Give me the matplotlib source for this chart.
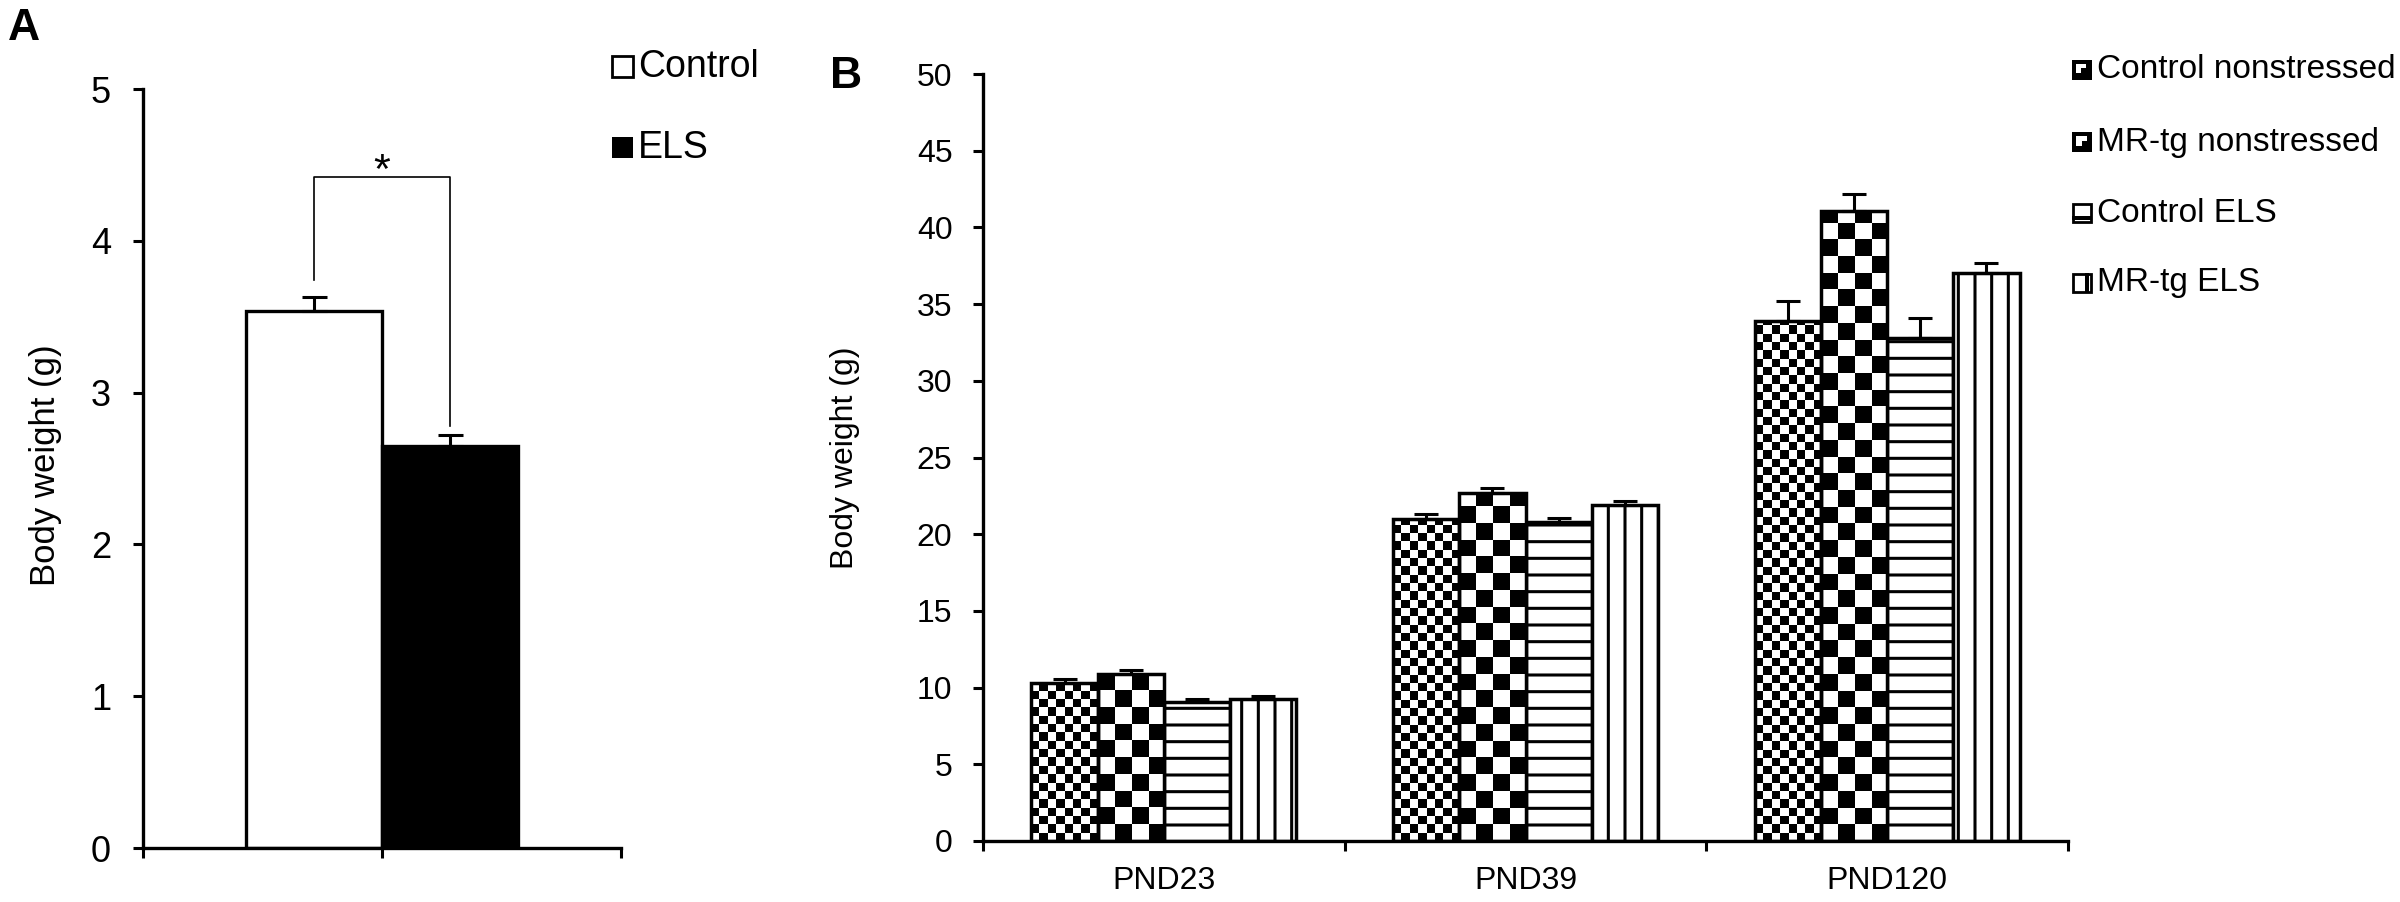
import numpy as np
import matplotlib
matplotlib.use('Agg')
import matplotlib.pyplot as plt
from matplotlib.patches import Rectangle

plt.rcParams['font.family'] = ['Liberation Sans', 'DejaVu Sans']
plt.rcParams['hatch.linewidth'] = 2.2
plt.rcParams['hatch.color'] = 'black'

# Panel A data
groups_a = ['Control', 'ELS']
weight_a = [3.54, 2.65]
sem_a = [0.09, 0.07]

# Panel B data
days = ['PND23', 'PND39', 'PND120']
series_b = ['Control nonstressed', 'MR-tg nonstressed', 'Control ELS', 'MR-tg ELS']
ctrl_ns = [10.3, 21.0, 33.9]
ctrl_ns_err = [0.25, 0.3, 1.3]
mrtg_ns = [10.9, 22.7, 41.1]
mrtg_ns_err = [0.25, 0.3, 1.1]
ctrl_els = [9.05, 20.8, 32.8]
ctrl_els_err = [0.2, 0.25, 1.3]
mrtg_els = [9.25, 21.9, 37.0]
mrtg_els_err = [0.2, 0.25, 0.7]

W, H = 2400, 902
fig = plt.figure(figsize=(W / 100, H / 100), dpi=100)


def box(x0, y0, x1, y1):
    # pixel box (top-left origin) -> figure fraction rect
    return [x0 / W, 1 - y1 / H, (x1 - x0) / W, (y1 - y0) / H]


def prect(x, y, w, h, fc, ec='none', lw=0):
    fig.add_artist(Rectangle((x / W, 1 - (y + h) / H), w / W, h / H,
                             transform=fig.transFigure, facecolor=fc,
                             edgecolor=ec, linewidth=lw))


def style(ax, size):
    for s in ['top', 'right']:
        ax.spines[s].set_visible(False)
    for s in ['left', 'bottom']:
        ax.spines[s].set_linewidth(2.4)
    ax.tick_params(which='major', direction='out', length=7, width=2.2,
                   labelsize=size, pad=15)


ax_a = fig.add_axes(box(143, 89, 621, 848))
ax_b = fig.add_axes(box(983, 74, 2068, 841))

# ---- Panel A ----
bw_a = 0.57
xa = [1 + (i - 0.5) * bw_a for i in range(len(groups_a))]
ax_a.bar(xa, weight_a, width=bw_a, color=['white', 'black'],
         edgecolor='black', linewidth=2.4, zorder=2)
ax_a.errorbar(xa, weight_a, yerr=[[0, 0], sem_a], fmt='none', ecolor='black',
              elinewidth=2.2, capsize=9, capthick=2.2, zorder=3)

# significance bracket
top_a = [m + e for m, e in zip(weight_a, sem_a)]
bracket_y = 4.42
ax_a.plot([xa[0], xa[0], xa[1], xa[1]],
          [top_a[0] + 0.11, bracket_y, bracket_y, top_a[1] + 0.06],
          color='black', lw=1.2, zorder=3)
ax_a.text(1.0, 4.38, '*', ha='center', va='baseline', fontsize=31)

ax_a.set_xlim(0, 2)
ax_a.set_ylim(0, 5)
ax_a.set_xticks([0, 1, 2])
ax_a.set_xticklabels([])
ax_a.set_yticks(range(6))
ax_a.set_ylabel('Body weight (g)', fontsize=25)
ax_a.yaxis.set_label_coords(-0.169, 0.505)
style(ax_a, 26)
ax_a.tick_params(axis='y', pad=16)

# ---- Panel B ----
ax_b.set_xlim(0, 3)
ax_b.set_ylim(0, 50)
ax_b.set_autoscale_on(False)

px_x = ax_b.transData.transform((1, 0))[0] - ax_b.transData.transform((0, 0))[0]
px_y = ax_b.transData.transform((0, 1))[1] - ax_b.transData.transform((0, 0))[1]


def checker(ax, bar, cell_px):
    x0, w, h = bar.get_x(), bar.get_width(), bar.get_height()
    cx, cy = cell_px / px_x, cell_px / px_y
    nc, nr = int(np.ceil(w / cx)), int(np.ceil(h / cy))
    arr = np.add.outer(np.arange(nr), np.arange(nc)) % 2
    im = ax.imshow(arr, cmap='gray_r', vmin=0, vmax=1, origin='lower',
                   extent=[x0, x0 + nc * cx, 0, nr * cy],
                   interpolation='nearest', aspect='auto', zorder=2.5)
    im.set_clip_path(bar)


bw_b = 0.183
xb = np.arange(len(days)) + 0.5
vals_b = [ctrl_ns, mrtg_ns, ctrl_els, mrtg_els]
errs_b = [ctrl_ns_err, mrtg_ns_err, ctrl_els_err, mrtg_els_err]
fills = [('checker', 8.3), ('checker', 16.7), ('hatch', '-'), ('hatch', '|')]

for i, (vals, errs) in enumerate(zip(vals_b, errs_b)):
    pos = xb + (i - 1.5) * bw_b
    kind, arg = fills[i]
    if kind == 'hatch':
        bars = ax_b.bar(pos, vals, width=bw_b, facecolor='white',
                        edgecolor='black', linewidth=2.5, hatch=arg, zorder=2)
    else:
        bars = ax_b.bar(pos, vals, width=bw_b, facecolor='white',
                        edgecolor='none', zorder=2)
        for b in bars:
            checker(ax_b, b, arg)
        ax_b.bar(pos, vals, width=bw_b, fill=False, edgecolor='black',
                 linewidth=2.5, zorder=3)
    ax_b.errorbar(pos, vals, yerr=[np.zeros(len(vals)), errs], fmt='none',
                  ecolor='black', elinewidth=2.2, capsize=8.5, capthick=2.2,
                  zorder=3)

ax_b.set_xticks([0, 1, 2, 3])
ax_b.set_xticklabels([])
ax_b.set_xticks(xb, minor=True)
ax_b.set_xticklabels(days, minor=True)
ax_b.set_yticks(range(0, 51, 5))
ax_b.set_ylabel('Body weight (g)', fontsize=23)
ax_b.yaxis.set_label_coords(-0.113, 0.5)
style(ax_b, 23)
ax_b.tick_params(axis='x', which='minor', length=0, labelsize=23, pad=18)

# ---- legends ----
prect(612, 56, 21, 21, 'white', 'black', 2.0)
prect(612, 137, 21, 21, 'black')
for name, yc in zip(groups_a, [67, 148]):
    fig.text(638 / W, 1 - yc / H, name, fontsize=27, va='center', ha='left')

kx, ks = 2072, 20
key_y = [70, 142, 213, 283]
# Control nonstressed
y0 = key_y[0] - 10
prect(kx, y0, ks, ks, 'black')
prect(kx + 4, y0 + 4, 10, 9, 'white')
prect(kx + 9, y0 + 8, 5, 5, 'black')
# MR-tg nonstressed
y0 = key_y[1] - 10
prect(kx, y0, ks, ks, 'black')
prect(kx + 4, y0 + 4, 11, 10, 'white')
prect(kx + 10, y0 + 9, 5, 5, 'black')
# Control ELS
y0 = key_y[2] - 10
prect(kx + 1, y0 + 1, ks - 2, ks - 2, 'white', 'black', 2.0)
prect(kx, y0 + 13, ks, 4, 'black')
# MR-tg ELS
y0 = key_y[3] - 10
prect(kx + 1, y0 + 1, ks - 2, ks - 2, 'white', 'black', 2.0)
prect(kx + 13, y0, 4, ks, 'black')

for name, yc in zip(series_b, key_y):
    fig.text(2097 / W, 1 - yc / H, name, fontsize=24, va='center', ha='left')

# panel letters
fig.text(8 / W, 1 - 40 / H, 'A', fontsize=32, fontweight='bold', va='baseline')
fig.text(830 / W, 1 - 88 / H, 'B', fontsize=32, fontweight='bold', va='baseline')

fig.savefig('out.png', dpi=100)
